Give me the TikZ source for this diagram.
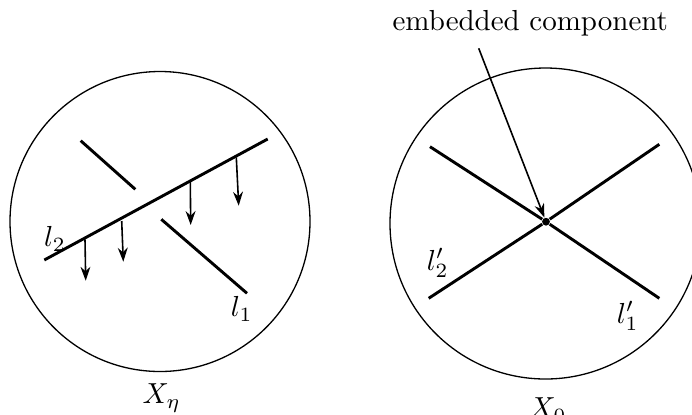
\documentclass[tikz,border=0pt]{standalone}
\usetikzlibrary{arrows.meta}
\begin{document}
\begin{tikzpicture}[x=0.345pt,y=-0.345pt,
  thin circle/.style={line width=0.45pt},
  curve/.style={line width=1pt},
  fall/.style={line width=0.55pt,-{Stealth[length=4.8pt,width=3.4pt]}},
  lbl/.style={inner sep=0pt}]
\useasboundingbox (0,0) rectangle (692,414);
% left picture
\node[circle,draw,thin circle,minimum size=300*0.345pt,inner sep=0pt] (C1) at (160,221.5) {};
\coordinate (a1) at (44.3,260);
\coordinate (a2) at (267.7,139);
\draw[curve] (a1) -- (a2);
\coordinate (b1) at (80.7,140.7);
\coordinate (b2) at (135.3,189.3);
\coordinate (b3) at (161.3,219.3);
\coordinate (b4) at (247,293.3);
\draw[curve] (b1) -- (b2);
\draw[curve] (b3) -- (b4);
\coordinate (s1) at (85,239.3);   \coordinate (e1) at (85.7,280.7);
\coordinate (s2) at (121.7,221);  \coordinate (e2) at (123.3,261.7);
\coordinate (s3) at (190.3,181.7); \coordinate (e3) at (190.7,225);
\coordinate (s4) at (236.3,157.3); \coordinate (e4) at (238.7,205.7);
\draw[fall] (s1) -- (e1);
\draw[fall] (s2) -- (e2);
\draw[fall] (s3) -- (e3);
\draw[fall] (s4) -- (e4);
\node[lbl] (L2) at (55,239) {$l_2$};
\node[lbl] (L1) at (241.7,309) {$l_1$};
\node[lbl] (Xeta) at (161.7,398) {$X_\eta$};
% right picture
\node[circle,draw,thin circle,minimum size=311*0.345pt,inner sep=0pt] (C2) at (545.5,223.5) {};
\node[circle,fill,inner sep=0pt,minimum size=2.7pt] (dot) at (546,221.7) {};
\coordinate (p1) at (430,146.7);
\coordinate (p2) at (659.3,298.3);
\coordinate (q1) at (428.7,298.3);
\coordinate (q2) at (659.3,144.3);
\draw[curve] (p1) -- (dot) -- (p2);
\draw[curve] (q1) -- (dot) -- (q2);
\node[lbl] (emb) at (530.3,23.3) {embedded component};
\coordinate (t) at (478.7,48.3);
\draw[fall] (t) -- (dot);
\node[lbl] (L2p) at (437.7,263) {$l_2'$};
\node[lbl] (L1p) at (627.7,316) {$l_1'$};
\node[lbl] (X0) at (548,410) {$X_0$};
\end{tikzpicture}
\end{document}
